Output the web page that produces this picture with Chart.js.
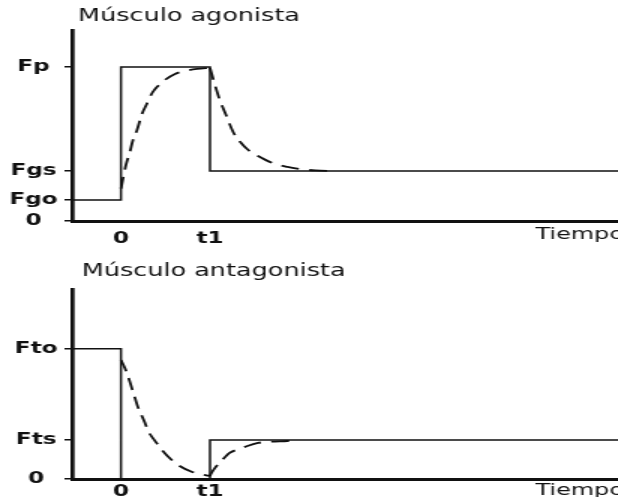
<!DOCTYPE html>
<html>
<head>
<meta charset="utf-8">
<script src="https://cdn.jsdelivr.net/npm/chart.js@4.4.1/dist/chart.umd.min.js"></script>
<style>
  html, body { margin: 0; padding: 0; background: #fff; overflow: hidden; width: 618px; height: 497px; }
  canvas { display: block; }
</style>
</head>
<body>
<!-- each panel is drawn on a narrow canvas and widened by CSS, giving the broad lettering and heavy vertical strokes -->
<canvas id="agonista" width="416" height="248" style="width:624px;height:248px"></canvas>
<canvas id="antagonista" width="416" height="249" style="width:624px;height:249px"></canvas>
<script>
// time axis (t1 = 1)
const T_START = -0.55;
const T1 = 1;
const T_END = 5.65;
const timeTickValues = [0, T1];
const timeTickLabels = ['0', 't1'];

// force levels
const FGO = 1.36, FGS = 3.25, FP = 10;
const FTO = 10, FTS = 3.0;

// agonist: neural command (step) and developed force (dashed)
const agonistTickValues = [0, FGO, FGS, FP];
const agonistTickLabels = ['0', 'Fgo', 'Fgs', 'Fp'];
const agonistStepTimes = [T_START, 0, T1, T_END];
const agonistStepForce = [FGO, FP, FGS, FGS];
const agonistRiseTimes = [0, 0.056, 0.10, 0.135, 0.18, 0.236, 0.29, 0.35, 0.416, 0.494, 0.607, 0.72, 0.854, 1.0];
const agonistRiseForce = [2.1, 3.64, 4.48, 5.26, 5.9, 6.95, 7.6, 8.31, 8.77, 9.16, 9.55, 9.74, 9.87, 9.94];
const agonistFallTimes = [1.0, 1.056, 1.11, 1.18, 1.26, 1.34, 1.43, 1.54, 1.70, 1.87, 2.01, 2.18, 2.40];
const agonistFallForce = [9.94, 8.83, 7.86, 6.88, 5.78, 5.13, 4.61, 4.22, 3.77, 3.51, 3.38, 3.28, 3.25];

// antagonist
const antagonistTickValues = [0, FTS, FTO];
const antagonistTickLabels = ['0', 'Fts', 'Fto'];
const antagonistStepTimes = [T_START, 0, T1, T_END];
const antagonistStepForce = [FTO, 0, FTS, FTS];
const antagonistFallTimes = [0, 0.067, 0.10, 0.157, 0.19, 0.27, 0.30, 0.40, 0.46, 0.57, 0.64, 0.80, 1.0];
const antagonistFallForce = [9.15, 8.15, 7.46, 6.23, 5.54, 4.31, 3.77, 2.77, 2.23, 1.46, 1.08, 0.54, 0.23];
const antagonistRiseTimes = [1.0, 1.01, 1.056, 1.17, 1.22, 1.36, 1.42, 1.54, 1.64, 1.87, 2.0];
const antagonistRiseForce = [0.23, 0.38, 0.85, 1.69, 2.0, 2.38, 2.54, 2.77, 2.85, 2.92, 2.97];

const INK = '#111';
const FONT = 'DejaVu Sans';

// panel heading, drawn just right of the force axis
const panelTitle = {
  id: 'panelTitle',
  afterDraw(chart, args, opts) {
    const { ctx, chartArea } = chart;
    ctx.save();
    ctx.font = `${opts.size}px "${FONT}"`;
    ctx.fillStyle = INK;
    ctx.textAlign = 'left';
    ctx.textBaseline = 'middle';
    ctx.fillText(opts.text, chartArea.left + opts.dx, opts.y);
    ctx.restore();
  }
};

const pts = (xs, ys) => xs.map((x, i) => ({ x, y: ys[i] }));

function buildPanel(id, p) {
  const dashed = p.curves.map(c => ({
    data: pts(c.t, c.f),
    borderColor: INK,
    borderWidth: 1.8,
    borderDash: [12, 7],
    pointRadius: 0,
    fill: false,
    cubicInterpolationMode: 'monotone'
  }));
  return new Chart(document.getElementById(id), {
    type: 'line',
    data: {
      datasets: [{
        data: pts(p.stepTimes, p.stepForce),
        stepped: true,
        borderColor: INK,
        borderWidth: 1.5,
        pointRadius: 0,
        fill: false
      }, ...dashed]
    },
    options: {
      responsive: false,
      animation: false,
      devicePixelRatio: 1,
      layout: { padding: { top: p.top, left: 0, right: 0, bottom: 0 } },
      plugins: {
        legend: { display: false },
        tooltip: { enabled: false },
        panelTitle: { text: p.title, dx: p.titleDx, y: p.titleY, size: 17 }
      },
      scales: {
        x: {
          type: 'linear',
          min: T_START,
          max: T_END,
          afterFit: s => { s.height = p.xHeight; },
          afterBuildTicks: s => { s.ticks = timeTickValues.map(v => ({ value: v })); },
          grid: { display: false },
          border: { color: INK, width: 3 },
          ticks: {
            padding: p.xPad,
            color: INK,
            autoSkip: false,
            maxRotation: 0,
            font: { family: FONT, size: 15.5, weight: 'bold' },
            callback: (v, i) => timeTickLabels[i]
          },
          title: {
            display: true,
            text: 'Tiempo',
            align: 'end',
            color: INK,
            font: { family: FONT, size: 16 },
            padding: { top: 0, bottom: p.tiempoPad }
          }
        },
        y: {
          type: 'linear',
          min: 0,
          max: p.yMax,
          afterFit: s => { s.width = 48; },
          afterBuildTicks: s => { s.ticks = p.tickValues.map(v => ({ value: v })); },
          grid: { drawOnChartArea: false, drawTicks: true, tickLength: 5, color: INK, lineWidth: 1.5 },
          border: { color: INK, width: 2.7 },
          ticks: {
            crossAlign: 'center',
            padding: 4.5,
            color: INK,
            autoSkip: false,
            font: { family: FONT, size: 15.5, weight: 'bold' },
            callback: (v, i) => p.tickLabels[i]
          }
        }
      }
    },
    plugins: [panelTitle]
  });
}

buildPanel('agonista', {
  title: 'Músculo agonista', titleDx: 4, titleY: 16.5,
  top: 30, xHeight: 27, xPad: 0.5, tiempoPad: 4, yMax: 12.4,
  tickValues: agonistTickValues, tickLabels: agonistTickLabels,
  stepTimes: agonistStepTimes, stepForce: agonistStepForce,
  curves: [
    { t: agonistRiseTimes, f: agonistRiseForce },
    { t: agonistFallTimes, f: agonistFallForce }
  ]
});

buildPanel('antagonista', {
  title: 'Músculo antagonista', titleDx: 6.5, titleY: 24,
  top: 41, xHeight: 18, xPad: -4.8, tiempoPad: -3, yMax: 14.6,
  tickValues: antagonistTickValues, tickLabels: antagonistTickLabels,
  stepTimes: antagonistStepTimes, stepForce: antagonistStepForce,
  curves: [
    { t: antagonistFallTimes, f: antagonistFallForce },
    { t: antagonistRiseTimes, f: antagonistRiseForce }
  ]
});
</script>
</body>
</html>
